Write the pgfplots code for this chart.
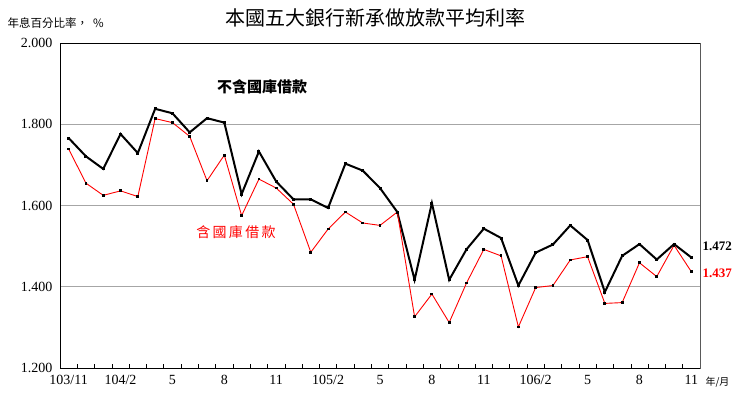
\documentclass[border=0pt]{standalone}
\usepackage{fontspec}
\setmainfont{Liberation Serif}
\newfontfamily\cjk{Noto Sans CJK TC}
\usepackage{pgfplots}
\pgfplotsset{compat=1.18}
\begin{document}
\begin{tikzpicture}[x=1pt,y=1pt]
\useasboundingbox (0,0) rectangle (745,397);
\begin{axis}[
  at={(60pt,29pt)}, anchor=south west,
  scale only axis, width=640pt, height=325pt,
  xmin=-0.5, xmax=36.5, ymin=1.2, ymax=2.0,
  xtick={0,3,...,36},
  xticklabels={103/11,104/2,5,8,11,105/2,5,8,11,106/2,5,8,11},
  minor xtick={-0.5,0.5,...,36.5},
  ytick={1.2,1.4,1.6,1.8,2.0},
  major tick length=0pt, minor tick length=4pt,
  tick align=inside, xtick pos=lower, ytick pos=left,
  ymajorgrids, major grid style={gray!70, line width=0.8pt},
  minor tick style={black, line width=0.6pt},
  axis line style={draw=gray!70!black, line width=0.9pt},
  yticklabel style={/pgf/number format/fixed, /pgf/number format/precision=3, /pgf/number format/fixed zerofill},
  /pgf/number format/assume math mode=true,
  ticklabel style={font=\fontsize{14}{14}\selectfont},
  xticklabel style={yshift=-4pt},
  yticklabel style={xshift=-4pt},
  clip=false,
]
\addplot[black, line width=2pt, mark=square*, mark size=1pt, mark options={line width=0pt}] coordinates {
(0,1.766)(1,1.721)(2,1.690)(3,1.776)(4,1.729)(5,1.838)(6,1.827)(7,1.780)(8,1.815)(9,1.804)
(10,1.628)(11,1.733)(12,1.659)(13,1.615)(14,1.615)(15,1.594)(16,1.703)(17,1.686)(18,1.643)(19,1.584)
(20,1.417)(21,1.606)(22,1.417)(23,1.492)(24,1.543)(25,1.520)(26,1.403)(27,1.484)(28,1.504)(29,1.551)
(30,1.515)(31,1.387)(32,1.476)(33,1.505)(34,1.467)(35,1.505)(36,1.472)};
\addplot[red, line width=0.9pt, mark=square*, mark size=0.9pt, mark options={black, line width=0pt}] coordinates {
(0,1.739)(1,1.655)(2,1.625)(3,1.636)(4,1.622)(5,1.814)(6,1.804)(7,1.770)(8,1.661)(9,1.724)
(10,1.575)(11,1.665)(12,1.643)(13,1.603)(14,1.485)(15,1.542)(16,1.584)(17,1.557)(18,1.551)(19,1.584)
(20,1.326)(21,1.382)(22,1.312)(23,1.409)(24,1.492)(25,1.476)(26,1.301)(27,1.398)(28,1.403)(29,1.466)
(30,1.474)(31,1.359)(32,1.361)(33,1.459)(34,1.425)(35,1.502)(36,1.437)};
\draw[black, line width=0.9pt] (rel axis cs:1,1) -- (rel axis cs:0,1) -- (rel axis cs:0,0) -- (rel axis cs:1,0);
\end{axis}
\node[font=\cjk\fontsize{20}{20}\selectfont] at (375,379) {本國五大銀行新承做放款平均利率};
\node[anchor=west, font=\cjk\fontsize{11.5}{11.5}\selectfont] at (4,374) {年息百分比率，\ \ \%};
\node[font=\cjk\bfseries\fontsize{15}{15}\selectfont] at (262,310) {不含國庫借款};
\node[red, font=\cjk\fontsize{14}{14}\selectfont] at (236,165) {含\,國\,庫\,借\,款};
\node[anchor=west, font=\bfseries\fontsize{13}{13}\selectfont] at (699,151) {1.472};
\node[anchor=west, red, font=\bfseries\fontsize{13}{13}\selectfont] at (699,124) {1.437};
\node[anchor=west, font=\cjk\fontsize{10}{10}\selectfont] at (702,15) {年/月};
\end{tikzpicture}
\end{document}
